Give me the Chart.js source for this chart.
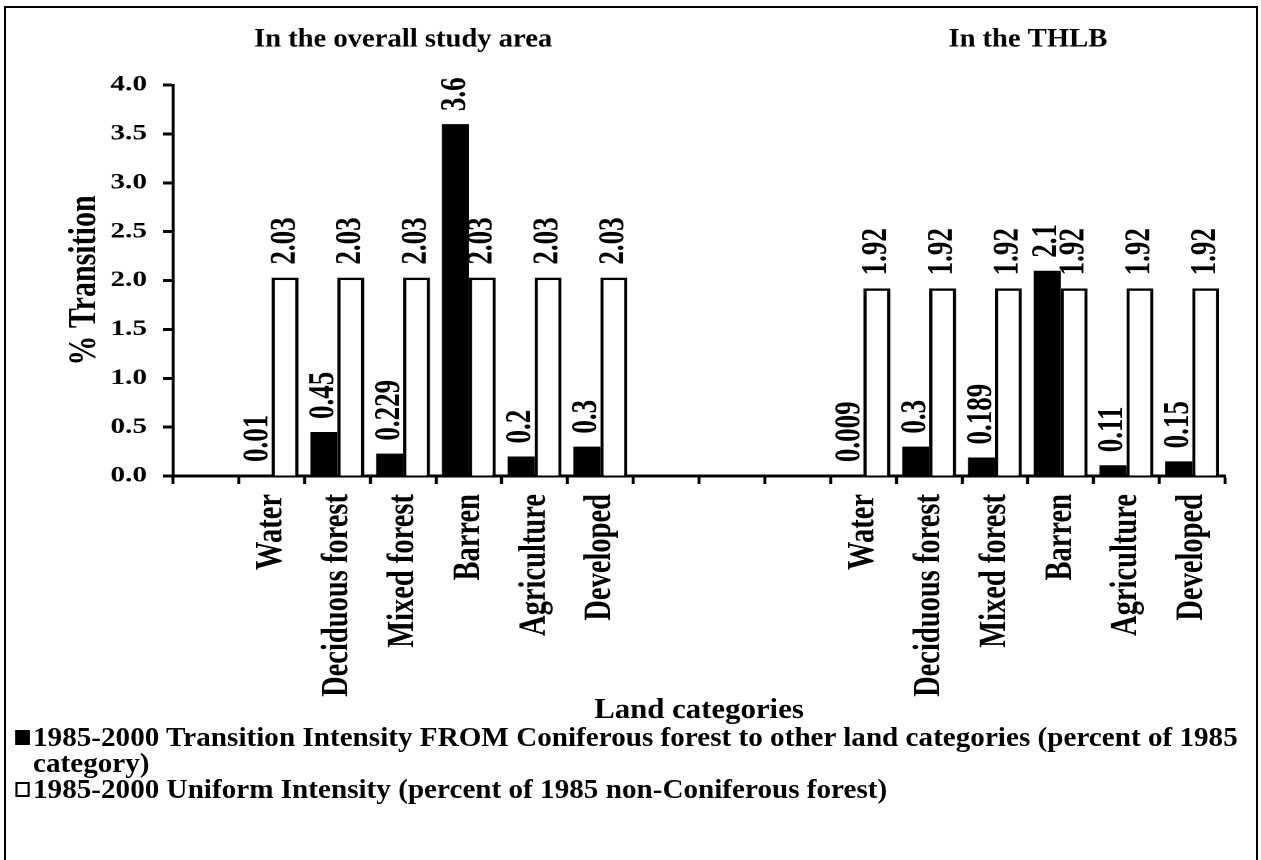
<!DOCTYPE html>
<html>
<head>
<meta charset="utf-8">
<script src="https://cdn.jsdelivr.net/npm/chart.js@4.4.1/dist/chart.umd.min.js"></script>
<style>
  html, body { margin: 0; padding: 0; background: #fff; }
  body { width: 1261px; height: 860px; position: relative; overflow: hidden; }
  #chart { position: absolute; left: 0; top: 0; }
  #frame { position: absolute; left: 4px; top: 6px; width: 1254px; height: 900px;
           border: 2.5px solid #000; box-sizing: border-box; pointer-events: none; }
  #legend { position: absolute; left: 0; top: 724px; width: 1130px;
            transform: scaleX(1.1); transform-origin: 0 0;
            font: bold 26.5px "Liberation Serif", "Times New Roman", serif;
            line-height: 26px; color: #000; }
  .item { position: relative; padding-left: 30px; white-space: nowrap; }
  .mark { position: absolute; left: 14px; top: 5.5px; width: 12.5px; height: 15px;
          box-sizing: border-box; border: 2px solid #000; }
</style>
</head>
<body>
<canvas id="chart" width="948" height="860" style="width:1261px;height:860px"></canvas>
<div id="legend"></div>
<div id="frame"></div>
<script>
// Land categories along the x axis; blank slots pad and separate the two panels
const categories = ['', 'Water', 'Deciduous forest', 'Mixed forest', 'Barren', 'Agriculture', 'Developed',
                    '', '', '',
                    'Water', 'Deciduous forest', 'Mixed forest', 'Barren', 'Agriculture', 'Developed'];

// 1985-2000 transition intensity from Coniferous forest (% of 1985 category)
const transitionIntensity = [null, 0.01, 0.45, 0.229, 3.6, 0.2, 0.3,
                             null, null, null,
                             0.009, 0.3, 0.189, 2.1, 0.11, 0.15];

// 1985-2000 uniform intensity (% of 1985 non-Coniferous forest)
const uniformIntensity = [null, 2.03, 2.03, 2.03, 2.03, 2.03, 2.03,
                          null, null, null,
                          1.92, 1.92, 1.92, 1.92, 1.92, 1.92];

const seriesNames = [
  '1985-2000 Transition Intensity FROM Coniferous forest to other land categories (percent of 1985 category)',
  '1985-2000 Uniform Intensity (percent of 1985 non-Coniferous forest)'
];
// legend text split into its printed lines
const legendLines = [
  ['1985-2000 Transition Intensity FROM Coniferous forest to other land categories (percent of 1985', 'category)'],
  ['1985-2000 Uniform Intensity (percent of 1985 non-Coniferous forest)']
];

const panelTitles = ['In the overall study area', 'In the THLB'];
const xAxisTitle = 'Land categories';
const yAxisTitle = '% Transition';
const yTickValues = [0, 0.5, 1, 1.5, 2, 2.5, 3, 3.5, 4];

const FONT = '"Liberation Serif", "Times New Roman", serif';
// the canvas is laid out 948 px wide and shown 1261 px wide
const STRETCH = 1261 / 948;

// horizontal text drawn with its own width factor on the stretched canvas
function drawWideText(ctx, text, x, y, size, widthFactor) {
  ctx.save();
  ctx.translate(x, y);
  ctx.scale(widthFactor / STRETCH, 1);
  ctx.font = 'bold ' + size + 'px ' + FONT;
  ctx.fillStyle = '#000';
  ctx.textAlign = 'center';
  ctx.textBaseline = 'middle';
  ctx.fillText(text, 0, 0);
  ctx.restore();
}

// Vertical value labels above each bar
const valueLabels = {
  id: 'valueLabels',
  afterDatasetsDraw(chart) {
    const ctx = chart.ctx;
    chart.data.datasets.forEach((ds, i) => {
      const meta = chart.getDatasetMeta(i);
      meta.data.forEach((bar, j) => {
        const v = ds.data[j];
        if (v === null || v === undefined) return;
        ctx.save();
        ctx.translate(bar.x, bar.y - 13);
        ctx.rotate(-Math.PI / 2);
        ctx.textAlign = 'left';
        ctx.textBaseline = 'middle';
        ctx.font = 'bold 27px ' + FONT;
        ctx.fillStyle = '#000';
        ctx.fillText(String(v), 0, 0);
        ctx.restore();
      });
    });
  }
};

// Panel headings above each group and the x axis title
const headings = {
  id: 'headings',
  afterDraw(chart) {
    const ctx = chart.ctx;
    const x = chart.scales.x;
    const area = chart.chartArea;
    const centers = [
      x.getPixelForValue(3),
      (x.getPixelForValue(12) + x.getPixelForValue(13)) / 2
    ];
    panelTitles.forEach((t, i) => drawWideText(ctx, t, centers[i], 40, 26, 1.1));
    drawWideText(ctx, xAxisTitle, (area.left + area.right) / 2, 711, 28, 1.1);
  }
};

const datasets = [
  { label: seriesNames[0], data: transitionIntensity, backgroundColor: '#000', borderColor: '#000', borderWidth: 0 },
  { label: seriesNames[1], data: uniformIntensity, backgroundColor: '#fff', borderColor: '#000', borderWidth: 2.5 }
];

new Chart(document.getElementById('chart'), {
  type: 'bar',
  data: { labels: categories, datasets },
  options: {
    responsive: false,
    animation: false,
    devicePixelRatio: 2,
    layout: { padding: { top: 85, right: 27, bottom: 134, left: 0 } },
    datasets: { bar: { categoryPercentage: 0.82, barPercentage: 1 } },
    plugins: { legend: { display: false }, tooltip: { enabled: false } },
    scales: {
      x: {
        ticks: {
          autoSkip: false, minRotation: 90, maxRotation: 90, padding: 10,
          color: '#000', font: { family: FONT, weight: 'bold', size: 28.5 }
        },
        grid: { drawOnChartArea: false, drawTicks: true, tickLength: 8, tickWidth: 2.3, tickColor: '#000', offset: true },
        border: { display: true, color: '#000', width: 3 },
        afterFit(scale) { scale.height = 250; }
      },
      y: {
        min: 0, max: 4,
        afterBuildTicks(scale) { scale.ticks = yTickValues.map(v => ({ value: v })); },
        ticks: {
          padding: 12, color: '#000',
          font: { family: FONT, weight: 'bold', size: 22 },
          callback: v => Number(v).toFixed(1)
        },
        grid: { drawOnChartArea: false, drawTicks: true, tickLength: 7.5, tickWidth: 3, tickColor: '#000' },
        border: { display: true, color: '#000', width: 2.3 },
        title: { display: true, text: yAxisTitle, color: '#000', padding: { top: 45.5, bottom: 0 },
                 font: { family: FONT, weight: 'bold', size: 30 } },
        afterFit(scale) { scale.width = 130; }
      }
    }
  },
  plugins: [valueLabels, headings]
});

// Legend below the plot
const legend = document.getElementById('legend');
datasets.forEach((ds, i) => {
  const item = document.createElement('div');
  item.className = 'item';
  const mark = document.createElement('span');
  mark.className = 'mark';
  mark.style.background = ds.backgroundColor;
  item.appendChild(mark);
  legendLines[i].forEach((line, k) => {
    if (k > 0) item.appendChild(document.createElement('br'));
    item.appendChild(document.createTextNode(line));
  });
  legend.appendChild(item);
});
</script>
</body>
</html>
